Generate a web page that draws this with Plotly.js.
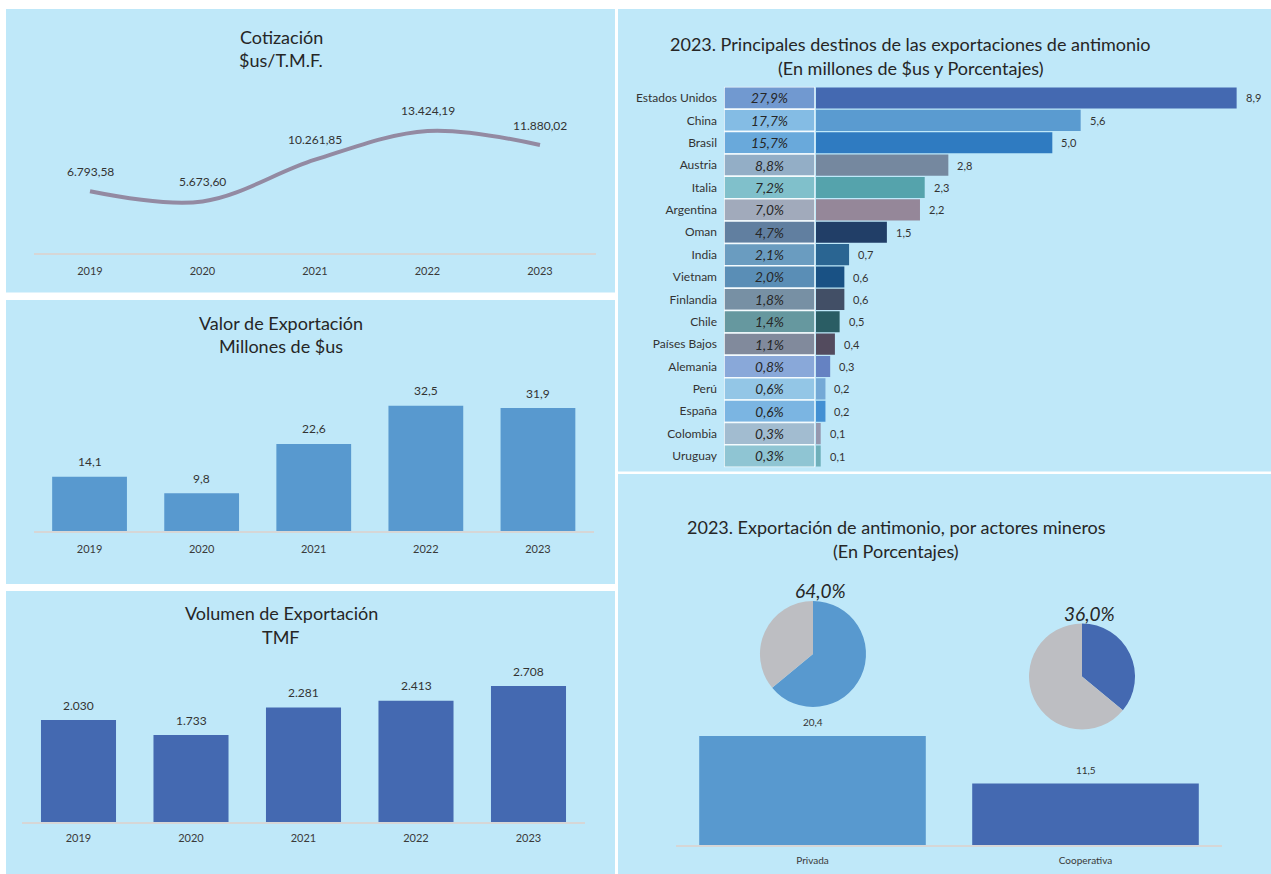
<!DOCTYPE html>
<html>
<head>
<meta charset="utf-8">
<script src="https://cdn.plot.ly/plotly-3.0.1.min.js"></script>
<style>html,body{margin:0;padding:0;background:#fff;}#chart{width:1271px;height:874px;}</style>
</head>
<body>
<div id="chart"></div>
<script>
// ---------- DATA ----------
const years = ['2019', '2020', '2021', '2022', '2023'];
const cotizacion = [6793.58, 5673.60, 10261.85, 13424.19, 11880.02];
const valorExport = [14.1, 9.8, 22.6, 32.5, 31.9];
const volumenExport = [2030, 1733, 2281, 2413, 2708];

const paises = ['Estados Unidos', 'China', 'Brasil', 'Austria', 'Italia', 'Argentina', 'Oman', 'India', 'Vietnam', 'Finlandia', 'Chile', 'Países Bajos', 'Alemania', 'Perú', 'España', 'Colombia', 'Uruguay'];
const paisesPct = [27.9, 17.7, 15.7, 8.8, 7.2, 7.0, 4.7, 2.1, 2.0, 1.8, 1.4, 1.1, 0.8, 0.6, 0.6, 0.3, 0.3];
const paisesValor = [8.9, 5.6, 5.0, 2.8, 2.3, 2.2, 1.5, 0.7, 0.6, 0.6, 0.5, 0.4, 0.3, 0.2, 0.2, 0.1, 0.1];

const actores = ['Privada', 'Cooperativa'];
const actoresValor = [20.4, 11.5];
const actoresPct = [64.0, 36.0];

// ---------- STYLE ----------
const pctColors = ['#7199D0', '#84BCE4', '#69A9DB', '#93AEC6', '#80C0CB', '#A1AABB', '#617FA0', '#6A9CC0', '#5A8EB6', '#7790A4', '#66989F', '#818A9C', '#89A8D9', '#93C6E6', '#7BB5E2', '#A2BCD0', '#8FC5D3'];
const barColors = ['#4469B1', '#5A9BD0', '#2F7BC1', '#75889F', '#55A3AC', '#958799', '#213E67', '#2A6592', '#195184', '#424F66', '#2A5D64', '#534B5E', '#6582C2', '#74A9D6', '#4390D3', '#9598AF', '#6FB0BA'];
const W = 1271, H = 874;
const px = x => x / W;
const py = y => 1 - y / H;
const FONT = 'Lato, "Open Sans", sans-serif';
const TXT = '#262626';
const TICK = '#3a3a3a';
const AXLINE = '#D6D6D6';

function fmt(v, dec) {
  const s = Math.abs(v).toFixed(dec);
  let [ip, dp] = s.split('.');
  ip = ip.replace(/\B(?=(\d{3})+(?!\d))/g, '.');
  return (v < 0 ? '-' : '') + ip + (dp !== undefined ? ',' + dp : '');
}

// ---------- TRACES ----------
const traces = [];
traces.push({
  type: 'scatter', mode: 'lines', x: years, y: cotizacion, xaxis: 'x', yaxis: 'y',
  line: {shape: 'spline', smoothing: 1, color: '#938AA2', width: 4}, hoverinfo: 'none'
});
traces.push({
  type: 'bar', x: years, y: valorExport, xaxis: 'x2', yaxis: 'y2', width: 0.667,
  marker: {color: '#5899CF'}, hoverinfo: 'none'
});
traces.push({
  type: 'bar', x: years, y: volumenExport, xaxis: 'x3', yaxis: 'y3', width: 0.667,
  marker: {color: '#4469B1'}, hoverinfo: 'none'
});
// percentage cells
traces.push({
  type: 'bar', orientation: 'h', y: paises, x: paises.map(() => 1), xaxis: 'x4', yaxis: 'y4', width: 1,
  marker: {color: pctColors, line: {color: '#F4FBFE', width: 1.5}},
  text: paisesPct.map(v => fmt(v, 1) + '%'), textposition: 'inside', insidetextanchor: 'middle',
  textfont: {family: FONT, size: 15, color: '#262626', style: 'italic'}, hoverinfo: 'none'
});
// value bars
traces.push({
  type: 'bar', orientation: 'h', y: paises, x: paisesValor, xaxis: 'x5', yaxis: 'y4', width: 0.94,
  marker: {color: barColors}, hoverinfo: 'none'
});
traces.push({
  type: 'bar', x: actores, y: actoresValor, xaxis: 'x6', yaxis: 'y6', width: 0.83,
  marker: {color: ['#5899CF', '#4469B1']}, hoverinfo: 'none'
});
const pieCols = [['#5899CF', '#BDBEC2'], ['#4469B1', '#BDBEC2']];
const pieDom = [
  {x: [px(760), px(866)], y: [py(707), py(601)]},
  {x: [px(1029), px(1135)], y: [py(730), py(623)]}
];
actoresPct.forEach((p, i) => {
  traces.push({
    type: 'pie', values: [p, 100 - p], labels: [actores[i], 'Resto'], sort: false, direction: 'clockwise',
    rotation: 0, textinfo: 'none', hoverinfo: 'none', showlegend: false,
    marker: {colors: pieCols[i], line: {width: 0}}, domain: pieDom[i]
  });
});

// ---------- ANNOTATIONS ----------
const ann = [];
function title(text, x, y) {
  ann.push({text, x: px(x), y: py(y), xref: 'paper', yref: 'paper', xanchor: 'center', yanchor: 'middle',
    showarrow: false, font: {family: FONT, size: 18, color: TXT}});
}
title('Cotización', 281, 37); title('$us/T.M.F.', 281, 60);
title('Valor de Exportación', 281, 323); title('Millones de $us', 281, 346);
title('Volumen de Exportación', 281, 613); title('TMF', 281, 637);
title('2023. Principales destinos de las exportaciones de antimonio', 910, 44);
title('(En millones de $us y Porcentajes)', 910, 68);
title('2023. Exportación de antimonio, por actores mineros', 896, 527);
title('(En Porcentajes)', 896, 551);

const lblFont = {family: FONT, size: 12, color: '#333'};
// on category axes annotations use the category's serial index
years.forEach((yr, i) => {
  ann.push({x: i, y: cotizacion[i], xref: 'x', yref: 'y', text: fmt(cotizacion[i], 2), showarrow: false,
    yanchor: 'middle', yshift: 20, font: lblFont});
  ann.push({x: i, y: valorExport[i], xref: 'x2', yref: 'y2', text: fmt(valorExport[i], 1), showarrow: false,
    yanchor: 'middle', yshift: 15, font: lblFont});
  ann.push({x: i, y: volumenExport[i], xref: 'x3', yref: 'y3', text: fmt(volumenExport[i], 0), showarrow: false,
    yanchor: 'middle', yshift: 15, font: lblFont});
});
paises.forEach((p, i) => {
  ann.push({x: paisesValor[i], y: i, xref: 'x5', yref: 'y4', text: fmt(paisesValor[i], 1), showarrow: false,
    xanchor: 'left', xshift: 7, yanchor: 'middle', font: {family: FONT, size: 11, color: '#333'}});
});
actores.forEach((a, i) => {
  ann.push({x: i, y: actoresValor[i], xref: 'x6', yref: 'y6', text: fmt(actoresValor[i], 1), showarrow: false,
    yanchor: 'middle', yshift: 14, font: {family: FONT, size: 10, color: '#333'}});
});
const pieLbl = [[820, 590], [1089, 613]];
actoresPct.forEach((p, i) => {
  ann.push({x: px(pieLbl[i][0]), y: py(pieLbl[i][1]), xref: 'paper', yref: 'paper', text: fmt(p, 1) + '%',
    showarrow: false, xanchor: 'center', yanchor: 'middle',
    font: {family: FONT, size: 19, color: TXT, style: 'italic'}});
});

// ---------- SHAPES (panels) ----------
const panelColor = '#BFE8F9';
const panels = [[6, 9, 615, 292.5], [6, 300, 615, 584], [6, 591, 615, 874], [618, 9, 1271, 471.5], [618, 474, 1271, 874]];
const shapes = panels.map(p => ({type: 'rect', xref: 'paper', yref: 'paper', layer: 'below',
  x0: px(p[0]), x1: px(p[2]), y0: py(p[3]), y1: py(p[1]), fillcolor: panelColor, line: {width: 0}}));

function catX(domain, anchor, standoff, n, size) {
  return {domain, anchor, type: 'category', range: [-0.5, n - 0.5], showline: true, linecolor: AXLINE, linewidth: 1.5,
    showgrid: false, zeroline: false, ticks: '', ticklabelstandoff: standoff,
    tickfont: {family: FONT, size: size || 11, color: TICK}, fixedrange: true};
}
function valY(domain, anchor, range) {
  return {domain, anchor, range, visible: false, showgrid: false, zeroline: false, fixedrange: true};
}

const layout = {
  width: W, height: H, margin: {l: 0, r: 0, t: 0, b: 0}, paper_bgcolor: '#FFFFFF', plot_bgcolor: 'rgba(0,0,0,0)',
  showlegend: false, separators: ',.', font: {family: FONT, color: TXT},
  xaxis: catX([px(33.75), px(596.25)], 'y', 7, years.length),
  yaxis: valY([py(253), py(110)], 'x', [0, 15730]),
  xaxis2: catX([px(33.5), px(594)], 'y2', 7, years.length),
  yaxis2: valY([py(531), py(390)], 'x2', [0, 36.6]),
  xaxis3: catX([px(22.25), px(584.75)], 'y3', 5, years.length),
  yaxis3: valY([py(822), py(672)], 'x3', [0, 2988]),
  xaxis4: {domain: [px(724), px(815)], anchor: 'y4', range: [0, 1], visible: false, fixedrange: true},
  xaxis5: {domain: [px(816), px(1265)], anchor: 'y4', range: [0, 9.5], visible: false, fixedrange: true},
  yaxis4: {domain: [py(467.2), py(86.8)], anchor: 'x4', type: 'category', range: [paises.length - 0.5, -0.5],
    showline: false, showgrid: false, zeroline: false, ticks: '', ticklabelstandoff: 6,
    tickfont: {family: FONT, size: 12, color: '#333'}, fixedrange: true},
  xaxis6: catX([px(676), px(1222)], 'y6', 5, actores.length, 10),
  yaxis6: valY([py(845), py(720)], 'x6', [0, 23.4]),
  shapes, annotations: ann
};

Plotly.newPlot('chart', traces, layout, {displayModeBar: false, staticPlot: true});
</script>
</body>
</html>
